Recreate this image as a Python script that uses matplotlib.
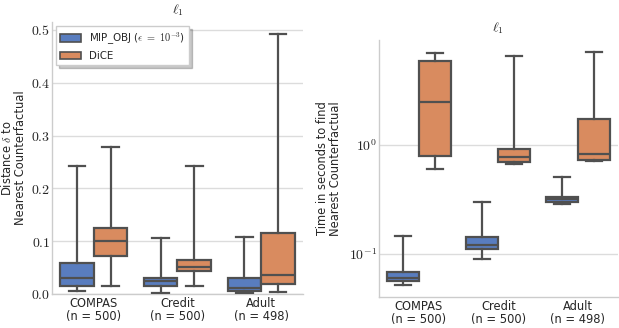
import colorsys
import matplotlib
matplotlib.use("Agg")
import matplotlib.pyplot as plt
import matplotlib.colors as mcolors
from matplotlib.patches import Patch
from matplotlib.ticker import FixedLocator, NullLocator

plt.rcParams['mathtext.fontset'] = 'cm'
plt.rcParams['font.family'] = ['DejaVu Sans']

categories = ["COMPAS\n(n = 500)", "Credit\n(n = 500)", "Adult\n(n = 498)"]
methods = ["MIP_OBJ ($\\epsilon\\ =\\ 10^{-3}$)", "DiCE"]

# Distance: [whislo, q1, med, q3, whishi] per dataset
dist_mip = [[0.005, 0.015, 0.031, 0.058, 0.242],
            [0.002, 0.016, 0.0246, 0.030, 0.106],
            [0.001, 0.005, 0.012, 0.030, 0.108]]
dist_dice = [[0.016, 0.0725, 0.101, 0.1256, 0.279],
             [0.016, 0.0435, 0.052, 0.0637, 0.242],
             [0.0038, 0.018, 0.0366, 0.1155, 0.492]]

# Time in seconds
time_mip = [[0.052, 0.0565, 0.060, 0.068, 0.147],
            [0.091, 0.112, 0.120, 0.142, 0.30],
            [0.288, 0.302, 0.320, 0.336, 0.51]]
time_dice = [[0.60, 0.79, 2.5, 5.86, 6.98],
             [0.665, 0.70, 0.78, 0.92, 6.55],
             [0.72, 0.73, 0.82, 1.73, 7.18]]

dist_ticks = [0.0, 0.1, 0.2, 0.3, 0.4, 0.5]
time_ticks = [0.1, 1.0]
time_tick_labels = ["$10^{-1}$", "$10^{0}$"]


def desaturate(c, prop=0.75):
    r, g, b = mcolors.to_rgb(c)
    h, l, s = colorsys.rgb_to_hls(r, g, b)
    return colorsys.hls_to_rgb(h, l, s * prop)


colors = [desaturate("#4878d0"), desaturate("#ee854a")]
line_col = "#505050"


def stats(arr):
    return [dict(whislo=a[0], q1=a[1], med=a[2], q3=a[3], whishi=a[4], fliers=[]) for a in arr]


fig = plt.figure(figsize=(6.19, 3.28), dpi=100)
ax1 = fig.add_axes([0.084, 0.1037, 0.4055, 0.829])
ax2 = fig.add_axes([0.612, 0.0945, 0.386, 0.7835])


def draw(ax, series):
    for j, data in enumerate(series):
        pos = [i - 0.2 + 0.4 * j for i in range(len(categories))]
        bp = ax.bxp(stats(data), positions=pos, widths=0.4, patch_artist=True,
                    showfliers=False, manage_ticks=False,
                    boxprops=dict(facecolor=colors[j], edgecolor=line_col, linewidth=1.6),
                    medianprops=dict(color=line_col, linewidth=1.6),
                    whiskerprops=dict(color=line_col, linewidth=1.6),
                    capprops=dict(color=line_col, linewidth=1.6))
        for b in bp['boxes']:
            b.set_zorder(3)
        for k in ('medians', 'whiskers', 'caps'):
            for l in bp[k]:
                l.set_zorder(3)
    ax.set_xlim(-0.5, 2.5)
    ax.set_xticks(range(len(categories)))
    ax.set_xticklabels(categories, fontsize=8.3, color="#262626", linespacing=1.0)
    ax.tick_params(axis='x', length=0, pad=2)
    ax.tick_params(axis='y', length=0, pad=1.2)
    ax.yaxis.grid(True, color="#dcdcdc", linewidth=1.0, zorder=0)
    ax.set_axisbelow(True)
    for s in ('top', 'right'):
        ax.spines[s].set_visible(False)
    for s in ('left', 'bottom'):
        ax.spines[s].set_color("#cccccc")
        ax.spines[s].set_linewidth(1.0)
    ax.set_title("$\\ell_1$", fontsize=10, color="#262626", pad=6)


draw(ax1, [dist_mip, dist_dice])
ax1.set_ylim(0, 0.515)
ax1.set_yticks(dist_ticks)
ax1.set_yticklabels(["$%.1f$" % t for t in dist_ticks], fontsize=10, color="#262626")
ax1.set_ylabel("Distance $\\delta$ to\nNearest Counterfactual", fontsize=8.3, color="#262626",
               labelpad=3, linespacing=1.0)

draw(ax2, [time_mip, time_dice])
ax2.set_yscale('log')
ax2.set_ylim(0.0404, 9.2)
ax2.yaxis.set_major_locator(FixedLocator(time_ticks))
ax2.yaxis.set_minor_locator(NullLocator())
ax2.set_yticklabels(time_tick_labels, fontsize=10, color="#262626")
ax2.set_ylabel("Time in seconds to find\nNearest Counterfactual", fontsize=8.3, color="#262626",
               labelpad=5, linespacing=1.0)

handles = [Patch(facecolor=colors[i], edgecolor=line_col, linewidth=1.2, label=methods[i]) for i in range(2)]
leg = ax1.legend(handles=handles, loc='upper left', fontsize=7.4,
                 frameon=True, fancybox=False, shadow={'alpha': 0.3}, framealpha=1,
                 edgecolor="#cccccc", handlelength=2.0, handleheight=0.75,
                 borderpad=0.4, labelspacing=0.45, handletextpad=0.8, borderaxespad=0.4)
for t in leg.get_texts():
    t.set_color("#262626")

fig.savefig("out.png", dpi=100)
